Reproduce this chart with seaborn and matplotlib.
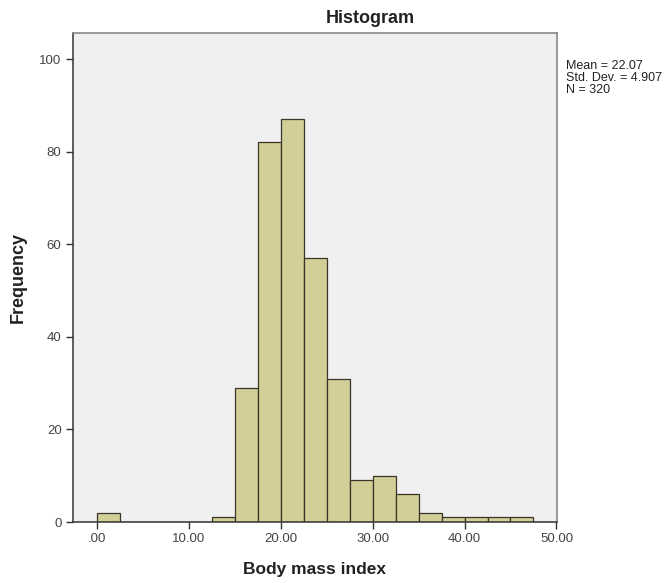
import numpy as np
import pandas as pd
import matplotlib
matplotlib.use("Agg")
import matplotlib.pyplot as plt
import seaborn as sns

# Histogram bins (width 2.5) and frequencies read from the SPSS output
bin_edges = [float(e) for e in np.arange(0, 50.01, 2.5)]
bin_counts = [2, 0, 0, 0, 0, 1, 29, 82, 87, 57, 31, 9, 10, 6, 2, 1, 1, 1, 1, 0]
x_ticks = [0, 10, 20, 30, 40, 50]
x_tick_labels = [".00", "10.00", "20.00", "30.00", "40.00", "50.00"]
y_ticks = [0, 20, 40, 60, 80, 100]
stats_text = "Mean = 22.07\nStd. Dev. = 4.907\nN = 320"

sns.set_theme(style="white")
plt.rcParams["font.family"] = ["Liberation Sans", "DejaVu Sans"]

df = pd.DataFrame({"bmi": np.array(bin_edges[:-1]) + 1.25, "count": bin_counts})

fig = plt.figure(figsize=(6.67, 5.83), dpi=100)
ax = fig.add_axes([0.109, 0.1046, 0.726, 0.8384])
ax.set_facecolor("#f0f0f0")

sns.histplot(data=df, x="bmi", weights="count", bins=bin_edges, ax=ax,
             color="#d3cf98", alpha=1, edgecolor="#3a3528", linewidth=0.9)

ax.set_xlim(-2.6, 50.05)
ax.set_ylim(0, 105.6)
ax.set_xticks(x_ticks)
ax.set_xticklabels(x_tick_labels)
ax.set_yticks(y_ticks)
ax.tick_params(axis="both", direction="out", length=5, width=1, color="#333333",
               labelsize=9.5, labelcolor="#444444", pad=3)
ax.tick_params(bottom=True, left=True)

for side in ["left", "bottom"]:
    ax.spines[side].set_color("#333333")
    ax.spines[side].set_linewidth(1.1)
for side in ["top", "right"]:
    ax.spines[side].set_color("#888888")
    ax.spines[side].set_linewidth(1.2)

ax.set_xlabel("Body mass index", fontsize=12.5, fontweight="bold", labelpad=12,
              color="#222222")
ax.set_ylabel("Frequency", fontsize=13, fontweight="bold", labelpad=9,
              color="#222222")

# SPSS centres the title over the whole chart, not just the plot area
fig.text(0.555, 0.961, "Histogram", fontsize=13, fontweight="bold",
         ha="center", va="baseline", color="#222222")

fig.text(0.849, 0.897, stats_text, fontsize=9, va="top", ha="left",
         color="#222222", linespacing=1.0)

fig.savefig("out.png", dpi=100, facecolor="white")
plt.close(fig)
